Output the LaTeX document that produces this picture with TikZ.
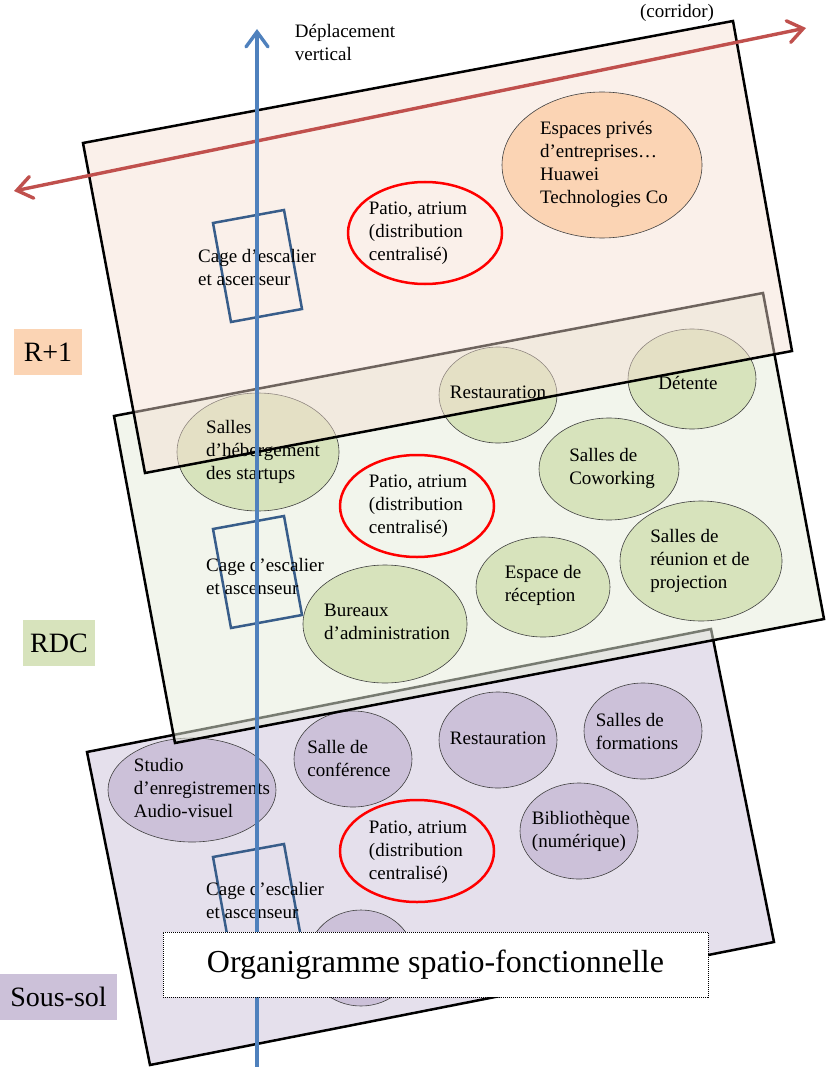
\documentclass[tikz,border=0pt]{standalone}
\usepackage{fontspec}
\setmainfont{Liberation Serif}
\usetikzlibrary{arrows.meta,shapes.geometric}
\definecolor{peach}{HTML}{FBD4B4}
\definecolor{olive}{HTML}{D7E3BC}
\definecolor{lilac}{HTML}{CCC1D9}
\definecolor{r1fill}{RGB}{244,222,209}
\definecolor{rdcfill}{RGB}{230,236,218}
\definecolor{cageblue}{HTML}{385D8A}
\definecolor{axisblue}{HTML}{4F81BD}
\definecolor{corrred}{HTML}{C0504D}
\tikzset{
	bulle/.style={ellipse, draw=black!75, line width=0.6pt, inner sep=0pt},
	vert/.style={bulle, fill=olive},
	mauve/.style={bulle, fill=lilac},
	orange/.style={bulle, fill=peach},
	patio/.style={ellipse, draw=red, line width=2.5pt, inner sep=0pt, minimum width=154pt, minimum height=102pt},
	cage/.style={draw=cageblue, line width=2.5pt},
	etage/.style={draw=black, line width=2.5pt},
	txt/.style={font=\fontsize{19}{23}\selectfont, align=left, inner sep=0pt},
	etiquette/.style={font=\fontsize{28}{32}\selectfont, inner sep=0pt, minimum height=46pt},
	fleche/.style={line width=3.4pt, line cap=round, {Straight Barb[length=15pt,width=22pt,line cap=round]}-{Straight Barb[length=15pt,width=22pt,line cap=round]}}
}

\begin{document}
\begin{tikzpicture}[x=1pt,y=-1pt]
		\useasboundingbox (0,0) rectangle (826,1067);
		%%%%% SOUS-SOL %%%%%
		\draw[etage, fill=lilac, fill opacity=0.5] (87,752) -- (711,629) -- (774,942) -- (150,1065) -- cycle;
		\node[mauve, minimum width=168pt, minimum height=104pt] (studio) at (192,790) {};
		\node[mauve, minimum width=118pt, minimum height=96pt] (conf) at (353,759) {};
		\node[mauve, minimum width=118pt, minimum height=96pt] (ssResto) at (498,740) {};
		\node[mauve, minimum width=118pt, minimum height=96pt] (formation) at (643,731) {};
		\node[mauve, minimum width=118pt, minimum height=96pt] (biblio) at (579,831) {};
		\node[mauve, minimum width=106pt, minimum height=96pt] (cache) at (361,958) {};
		\node[patio] (ssPatio) at (417,851) {};
		\draw[cage] (213,857) -- (284,844) -- (302,943) -- (231,956) -- cycle;
		\node[txt] (studioT) at (202,788) {Studio\\d’enregistrements\\Audio-visuel};
		\node[txt] (confT) at (349,758) {Salle de\\conférence};
		\node[txt] (ssRestoT) at (498,738) {Restauration};
		\node[txt] (formationT) at (637,731) {Salles de\\formations};
		\node[txt] (biblioT) at (581,831) {Bibliothèque\\(numérique)};
		\node[txt] (ssPatioT) at (418,852) {Patio, atrium\\(distribution\\centralisé)};
		\node[txt] (ssCageT) at (265,900) {Cage d’escalier\\et ascenseur};
		
		%%%%% RDC %%%%%
		\draw[etage, fill=rdcfill, fill opacity=0.52] (114,416) -- (763,293) -- (824,619) -- (175,743) -- cycle;
		\node[vert, minimum width=118pt, minimum height=96pt] (rdcResto) at (498,395) {};
		\node[vert, minimum width=128pt, minimum height=100pt] (detente) at (692,379) {};
		\node[vert, minimum width=162pt, minimum height=118pt] (startup) at (258,452) {};
		\node[vert, minimum width=140pt, minimum height=102pt] (cowork) at (609,469) {};
		\node[vert, minimum width=162pt, minimum height=120pt] (reunion) at (701,561) {};
		\node[vert, minimum width=134pt, minimum height=100pt] (accueil) at (543,587) {};
		\node[vert, minimum width=164pt, minimum height=118pt] (admin) at (385,624) {};
		\node[patio] (rdcPatio) at (417,506) {};
		\draw[cage] (213,529) -- (284,516) -- (302,615) -- (231,628) -- cycle;
		% voile du R+1 avant les textes du RDC
		\fill[r1fill, fill opacity=0.45] (83,143) -- (733,21) -- (792,351) -- (145,473) -- cycle;
		\node[txt] (rdcRestoT) at (498,392) {Restauration};
		\node[txt] (detenteT) at (688,383) {Détente};
		\node[txt] (startupT) at (263,452) {Salles\\d’hébergement\\des startups};
		\node[txt] (coworkT) at (612,468) {Salles de\\Coworking};
		\node[txt] (reunionT) at (700,561) {Salles de\\réunion et de\\projection};
		\node[txt] (accueilT) at (543,585) {Espace de\\réception};
		\node[txt] (adminT) at (387,622) {Bureaux\\d’administration};
		\node[txt] (rdcPatioT) at (418,506) {Patio, atrium\\(distribution\\centralisé)};
		\node[txt] (rdcCageT) at (265,576) {Cage d’escalier\\et ascenseur};
		
		%%%%% R+1 %%%%%
		\draw[etage] (83,143) -- (733,21) -- (792,351) -- (145,473) -- cycle;
		\node[orange, minimum width=200pt, minimum height=146pt] (prive) at (602,165) {};
		\node[patio] (r1Patio) at (425,233) {};
		\draw[cage] (213,223) -- (284,210) -- (302,309) -- (231,322) -- cycle;
		\node[txt] (priveT) at (604,164) {Espaces privés\\d’entreprises…\\Huawei\\Technologies Co};
		\node[txt] (r1PatioT) at (418,233) {Patio, atrium\\(distribution\\centralisé)};
		\node[txt] (r1CageT) at (257,268) {Cage d’escalier\\et ascenseur};
		
		%%%%% CIRCULATIONS %%%%%
		\coordinate (corrG) at (14,191);
		\coordinate (corrD) at (806,28);
		\coordinate (axeBas) at (257,1075);
		\coordinate (axeHaut) at (257,29);
		\draw[fleche, draw=corrred] (corrG) -- (corrD);
		\draw[fleche, draw=axisblue, -{Straight Barb[length=15pt,width=22pt,line cap=round]}] (axeBas) -- (axeHaut);
		\node[txt] (corrT) at (677,13) {(corridor)};
		\node[txt] (axeT) at (345,42) {Déplacement\\vertical};
		
		%%%%% ETIQUETTES %%%%%
		\node[etiquette, fill=peach, minimum width=68pt] (r1) at (48,352) {R+1};
		\node[etiquette, fill=olive, minimum width=72pt] (rdc) at (59,643) {RDC};
		\node[etiquette, fill=lilac, minimum width=117pt] (sous) at (58.5,997) {Sous-sol};
		
		\node[draw, densely dotted, line width=1pt, fill=white, minimum width=545pt, minimum height=65pt, font=\fontsize{32}{38}\selectfont] (titre) at (435.5,964.5) {Organigramme spatio-fonctionnelle};
	\end{tikzpicture}
\end{document}
